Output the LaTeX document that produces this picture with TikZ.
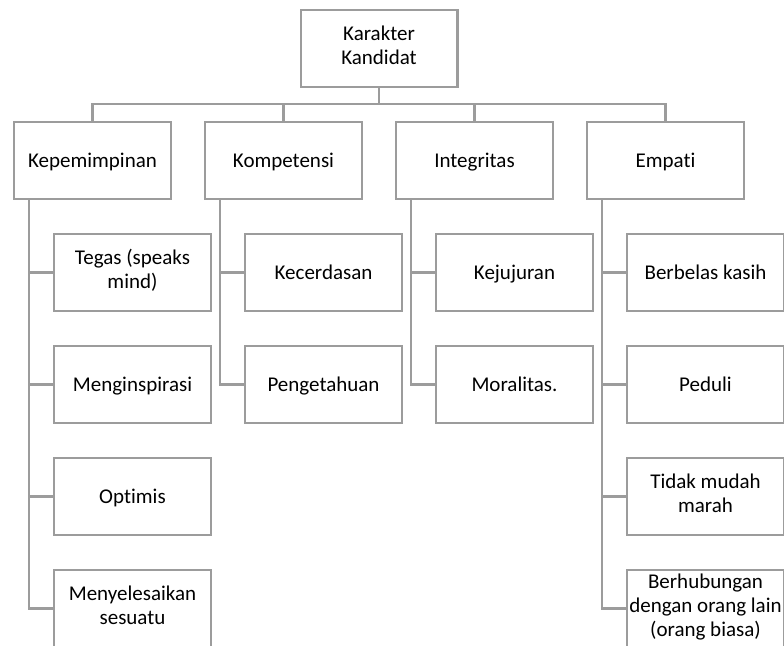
\documentclass[tikz,border=0pt]{standalone}
\usepackage{fontspec}
\setmainfont{Carlito}[RawFeature=-liga]
\usetikzlibrary{positioning, calc}
\definecolor{boxgray}{HTML}{9C9C9C}
\newcommand{\boxstrut}{\rule[-6.5pt]{0pt}{27pt}}
\tikzset{
  box/.style={draw=boxgray, line width=2.2pt, fill=white, minimum width=156.8pt, minimum height=76.8pt,
    inner sep=0pt, align=center, font=\fontsize{21}{24}\selectfont,
    execute at begin node=\boxstrut, execute at end node=\boxstrut},
  link/.style={draw=boxgray, line width=2.2pt}
}

\begin{document}
\begin{tikzpicture}[node distance=33pt]
  \path[use as bounding box, fill=white] (0,0) rectangle (784pt,-645pt);

  \node[box] (kepemimpinan) at (92.5pt,-160.5pt) {Kepemimpinan};
  \node[box, right=32pt of kepemimpinan] (kompetensi) {Kompetensi};
  \node[box, right=32pt of kompetensi] (integritas) {Integritas};
  \node[box, right=32pt of integritas] (empati) {Empati};

  \coordinate (top mid) at ($(kompetensi.north)!.5!(integritas.north)$);
  \node[box, above=of top mid] (karakter) {Karakter\\Kandidat};

  \node[box, below right=33pt and 40pt of kepemimpinan.south west] (tegas) {Tegas (speaks\\mind)};
  \node[box, below=of tegas] (menginspirasi) {Menginspirasi};
  \node[box, below=of menginspirasi] (optimis) {Optimis};
  \node[box, below=of optimis] (menyelesaikan) {Menyelesaikan\\sesuatu};

  \node[box, below right=33pt and 40pt of kompetensi.south west] (kecerdasan) {Kecerdasan};
  \node[box, below=of kecerdasan] (pengetahuan) {Pengetahuan};

  \node[box, below right=33pt and 40pt of integritas.south west] (kejujuran) {Kejujuran};
  \node[box, below=of kejujuran] (moralitas) {Moralitas.};

  \node[box, below right=33pt and 40pt of empati.south west] (berbelas) {Berbelas kasih};
  \node[box, below=of berbelas] (peduli) {Peduli};
  \node[box, below=of peduli] (tidak marah) {Tidak mudah\\marah};
  \node[box, below=of tidak marah] (berhubungan) {Berhubungan\\dengan orang lain\\(orang biasa)};

  \foreach \parent in {kepemimpinan, kompetensi, integritas, empati}
    \draw[link] (karakter.south) -- ++(0,-16pt) -| (\parent.north);

  \foreach \parent/\child in {kepemimpinan/tegas, kepemimpinan/menginspirasi, kepemimpinan/optimis,
      kepemimpinan/menyelesaikan, kompetensi/kecerdasan, kompetensi/pengetahuan,
      integritas/kejujuran, integritas/moralitas, empati/berbelas, empati/peduli,
      empati/tidak marah, empati/berhubungan}
    \draw[link] ($(\parent.south west)+(16pt,0)$) |- (\child.west);
\end{tikzpicture}
\end{document}
